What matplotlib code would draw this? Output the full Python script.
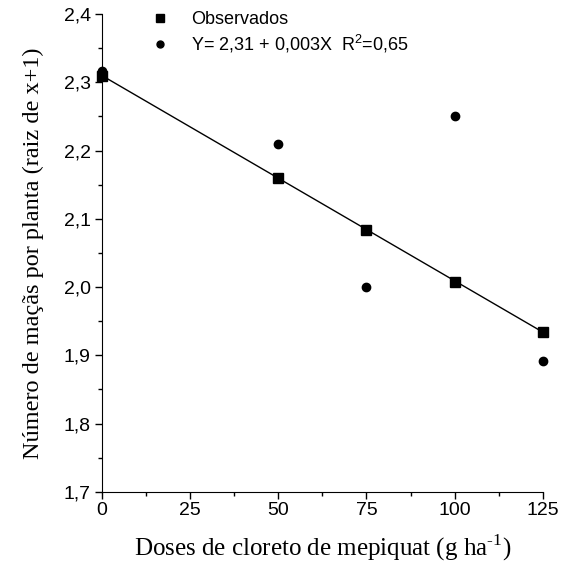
import matplotlib

matplotlib.use("Agg")
import matplotlib.pyplot as plt  # noqa: E402
from matplotlib.lines import Line2D  # noqa: E402
from matplotlib.ticker import MultipleLocator  # noqa: E402

doses = [0, 50, 75, 100, 125]
observados = [2.310, 2.160, 2.083, 2.008, 1.934]
pontos = [2.316, 2.210, 2.000, 2.250, 1.891]
reta_x = [0, 125]
reta_y = [2.310, 1.934]

x_ticks = [0, 25, 50, 75, 100, 125]
y_ticks = [1.7, 1.8, 1.9, 2.0, 2.1, 2.2, 2.3, 2.4]

sans = "Liberation Sans"
serif = "Liberation Serif"

fig = plt.figure(figsize=(5.66, 5.64), dpi=100)
ax = fig.add_axes([0.180, 0.128, 0.779, 0.847])

ax.plot(reta_x, reta_y, color="black", lw=1.0, zorder=2)
ax.plot(doses, observados, "s", color="black", ms=7, clip_on=False, zorder=3)
ax.plot(doses, pontos, "o", color="black", ms=6, clip_on=False, zorder=3)

ax.set_xlim(0, 125)
ax.set_ylim(1.7, 2.4)
ax.set_xticks(x_ticks)
ax.set_yticks(y_ticks)
ax.xaxis.set_minor_locator(MultipleLocator(12.5))
ax.yaxis.set_minor_locator(MultipleLocator(0.05))
ax.set_xticklabels([str(v) for v in x_ticks], fontfamily=sans, fontsize=14)
ax.set_yticklabels([f"{v:.1f}".replace(".", ",") for v in y_ticks],
                   fontfamily=sans, fontsize=14)
ax.tick_params(which="major", direction="out", length=5, width=1, pad=2)
ax.tick_params(axis="y", which="major", pad=3)
ax.tick_params(which="minor", direction="out", length=3, width=1)
for side in ("top", "right"):
    ax.spines[side].set_visible(False)

ax.set_xlabel("Doses de cloreto de mepiquat (g ha$^{\\mathregular{\u20101}}$)",
              fontfamily=serif, fontsize=18, labelpad=10)
ax.set_ylabel("Número de maçãs por planta (raiz de x+1)",
              fontfamily=serif, fontsize=17.5, labelpad=14)

handles = [
    Line2D([], [], marker="s", ls="none", color="black", ms=6),
    Line2D([], [], marker="o", ls="none", color="black", ms=5),
]
labels = ["Observados", r"Y= 2,31 + 0,003X  R$^{\mathregular{2}}$=0,65"]
ax.legend(handles, labels, loc="upper left", bbox_to_anchor=(0.055, 1.04),
          frameon=False, prop={"family": sans, "size": 13},
          handletextpad=0.7, labelspacing=0.25)

fig.savefig("out.png", dpi=100)
